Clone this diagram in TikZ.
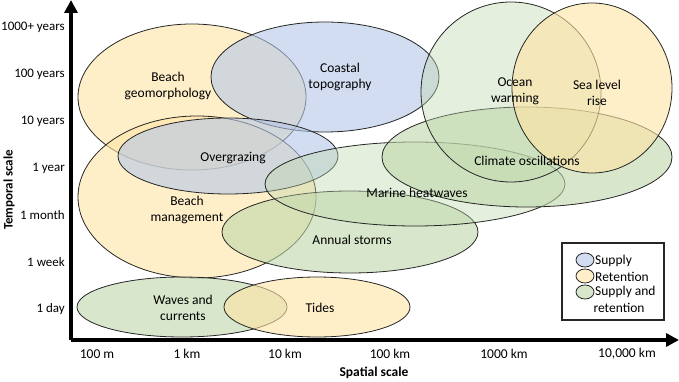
\documentclass[tikz,border=0pt]{standalone}
\usepackage{fontspec}
\setmainfont{Carlito}
\usetikzlibrary{arrows.meta,shapes.geometric}
\definecolor{bluefill}{RGB}{180,199,231}
\definecolor{yelfill}{RGB}{255,228,165}
\definecolor{grnfill}{RGB}{190,215,170}
\tikzset{
  ell/.style={draw=black!85, line width=0.8pt, fill opacity=0.6},
  lightell/.style={draw=black!85, line width=0.8pt, fill opacity=0.4},
  lbl/.style={font=\fontsize{13.5}{16}\selectfont, align=center, inner sep=0pt},
  ylab/.style={font=\fontsize{13}{16}\selectfont, anchor=east, inner sep=0pt},
  xlab/.style={font=\fontsize{13.5}{16}\selectfont, anchor=center, inner sep=0pt},
  axis/.style={line width=4pt, -{Triangle[length=13pt,width=13pt]}},
  legell/.style={draw=black!85, line width=0.8pt, fill opacity=0.6},
}
\begin{document}
\begin{tikzpicture}[x=1pt,y=-1pt]
\useasboundingbox (0,0) rectangle (679,382);
% ellipses
\filldraw[ell, fill=yelfill] (192,97) ellipse [x radius=114pt, y radius=73pt];
\filldraw[ell, fill=yelfill] (197,197) ellipse [x radius=119pt, y radius=81pt];
\filldraw[ell, fill=bluefill] (325,77) ellipse [x radius=114pt, y radius=55pt];
\filldraw[ell, fill=bluefill] (228,156) ellipse [x radius=110pt, y radius=38pt];
\filldraw[ell, fill=grnfill] (182,307) ellipse [x radius=105pt, y radius=30pt];
\filldraw[ell, fill=yelfill] (317,307) ellipse [x radius=93pt, y radius=30pt];
\filldraw[ell, fill=grnfill] (350,232) ellipse [x radius=128pt, y radius=41pt];
\filldraw[lightell, fill=grnfill] (415,184) ellipse [x radius=150pt, y radius=42pt];
\filldraw[ell, fill=grnfill] (527,157) ellipse [x radius=145pt, y radius=50pt];
\filldraw[lightell, fill=grnfill] (511,92) ellipse [x radius=90pt, y radius=90pt];
\filldraw[ell, fill=yelfill] (592,88) ellipse [x radius=80pt, y radius=85pt];
% labels
\node[lbl] (tgeo) at (168,86) {Beach\\geomorphology};
\node[lbl] (tcoast) at (340,77) {Coastal\\topography};
\node[lbl] (tover) at (233,158) {Overgrazing};
\node[lbl] (tman) at (187,210) {Beach\\management};
\node[lbl] (tann) at (352,240) {Annual storms};
\node[lbl] (tmar) at (417,193) {Marine heatwaves};
\node[lbl] (tclim) at (527,161) {Climate oscillations};
\node[lbl] (tocean) at (515,91) {Ocean\\warming};
\node[lbl] (tsea) at (597,93) {Sea level\\rise};
\node[lbl] (twave) at (183,308) {Waves and\\currents};
\node[lbl] (ttide) at (320,308) {Tides};
% axes
\coordinate (o) at (71,340);
\coordinate (ytop) at (71,0);
\coordinate (xend) at (679,340);
\draw[axis] (o) -- (ytop);
\draw[axis] (o) -- (xend);
% y labels
\node[ylab] (y1) at (65,27) {1000+ years};
\node[ylab] (y2) at (65,74) {100 years};
\node[ylab] (y3) at (65,121) {10 years};
\node[ylab] (y4) at (65,168) {1 year};
\node[ylab] (y5) at (65,215) {1 month};
\node[ylab] (y6) at (65,262) {1 week};
\node[ylab] (y7) at (65,309) {1 day};
\node[font=\fontsize{13}{16}\selectfont\bfseries, rotate=90, inner sep=0pt] (ytitle) at (9,190) {Temporal scale};
% x labels
\node[xlab] (x1) at (97,354) {100 m};
\node[xlab] (x2) at (187,354) {1 km};
\node[xlab] (x3) at (285,354) {10 km};
\node[xlab] (x4) at (390,354) {100 km};
\node[xlab] (x5) at (504,354) {1000 km};
\node[xlab] (x6) at (627,354) {10,000 km};
\node[font=\fontsize{13.5}{16}\selectfont\bfseries, inner sep=0pt] (xtitle) at (374,373) {Spatial scale};
% legend
\node[draw=black!85, line width=1.2pt, minimum width=102pt, minimum height=77pt, inner sep=0pt] (leg) at (613,281.5) {};
\filldraw[legell, fill=bluefill] (585,260) ellipse [x radius=9pt, y radius=7pt];
\filldraw[legell, fill=yelfill] (585,276) ellipse [x radius=9pt, y radius=7pt];
\filldraw[legell, fill=grnfill] (585,292) ellipse [x radius=9pt, y radius=7pt];
\node[lbl, anchor=west] (l1) at (595,261) {Supply};
\node[lbl, anchor=west] (l2) at (595,277) {Retention};
\node[lbl, anchor=west] (l3) at (595,292) {Supply and};
\node[lbl] (l4) at (619,308) {retention};
\end{tikzpicture}
\end{document}
